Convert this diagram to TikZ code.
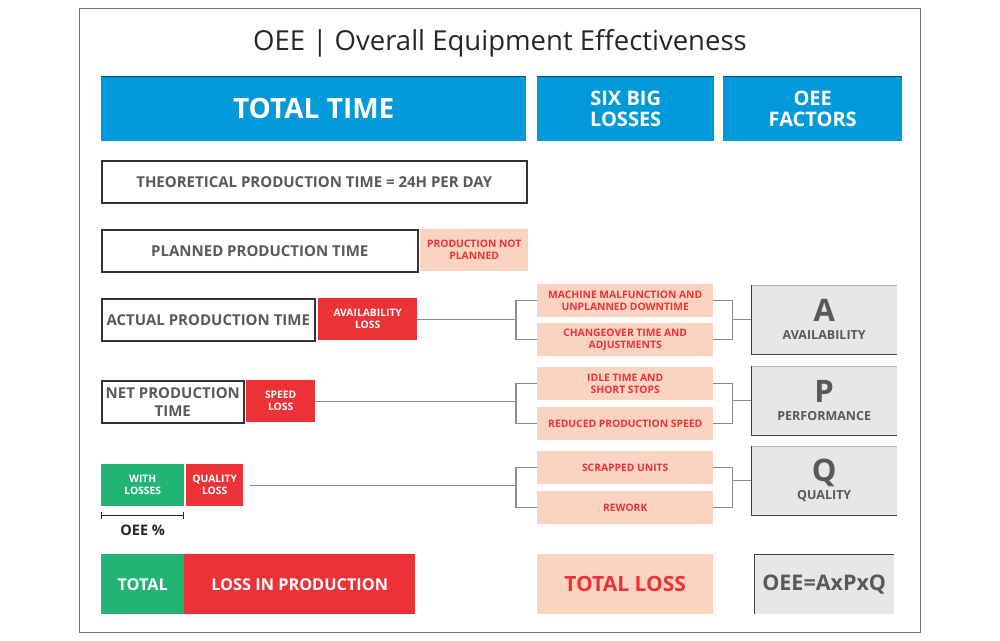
\documentclass[tikz,border=0pt]{standalone}
\usepackage{fontspec}
\setmainfont{Open Sans}
\definecolor{oeeblue}{RGB}{0,153,218}
\definecolor{lossred}{RGB}{236,50,55}
\definecolor{oeegreen}{RGB}{33,180,115}
\definecolor{softpeach}{RGB}{251,211,193}
\definecolor{factorgray}{RGB}{230,231,232}
\definecolor{textgray}{RGB}{88,89,91}
\usetikzlibrary{arrows.meta,positioning,calc}

\tikzset{
  box/.style 2 args={anchor=north west,minimum width=#1pt,minimum height=#2pt,inner sep=0pt,align=center},
  header/.style={fill=oeeblue,text=white,font=\bfseries\fontsize{20}{21}\selectfont},
  timebox/.style={draw=black!80,line width=1.6pt,text=textgray,font=\bfseries\fontsize{15}{18}\selectfont},
  redloss/.style={fill=lossred,text=white,font=\bfseries\fontsize{10.3}{12}\selectfont},
  goodbox/.style={fill=oeegreen,text=white,font=\bfseries\fontsize{10.3}{12}\selectfont},
  bigloss/.style={fill=softpeach,text=lossred,font=\bfseries\fontsize{10.3}{12}\selectfont},
  factor/.style={fill=factorgray,text=textgray,font=\bfseries\fontsize{12.5}{18}\selectfont},
  conn/.style={draw=black!45,line width=1.3pt},
}

\begin{document}
\begin{tikzpicture}[x=1pt,y=-1pt]
\useasboundingbox (0,0) rectangle (1000,640);
\draw[black!55,line width=0.8pt] (79,8) rectangle (920,632);
\node[font=\fontsize{27.5}{30}\selectfont,text=black!85] (title) at (500,43) {OEE | Overall Equipment Effectiveness};

\node[header,box={425}{65},font=\bfseries\fontsize{28}{30}\selectfont] (total) at (101,76) {TOTAL TIME};
\node[header,box={177}{65}] (six) at (537,76) {SIX BIG\\LOSSES};
\node[header,box={179}{65}] (fac) at (723,76) {OEE\\FACTORS};
\foreach \h in {total,six,fac}
  \draw[oeeblue!55!black,line width=0.8pt] (\h.north west) -- (\h.north east);

\node[timebox,box={425}{42}] (theo) at (101,160) {THEORETICAL PRODUCTION TIME = 24H PER DAY};
\node[timebox,box={316}{42}] (plan) at (101,229) {PLANNED PRODUCTION TIME};
\node[bigloss,box={108}{42}] (notplan) at (420,229) {PRODUCTION NOT\\PLANNED};
\node[timebox,box={213}{42}] (act) at (101,298) {ACTUAL PRODUCTION TIME};
\node[redloss,box={99}{42}] (avl) at (318,298) {AVAILABILITY\\LOSS};
\node[timebox,box={142}{42}] (net) at (101,380) {NET PRODUCTION\\TIME};
\node[redloss,box={69}{42}] (spl) at (246,380) {SPEED\\LOSS};
\node[goodbox,box={83}{42}] (good) at (101,464) {WITH\\LOSSES};
\node[redloss,box={57}{42}] (qul) at (186,464) {QUALITY\\LOSS};
\draw[black!85,line width=1pt,{Bar[width=7pt]}-{Bar[width=7pt]}] ([yshift=-9pt]good.south west) -- ([yshift=-9pt]good.south east)
  node[midway,below=6pt,font=\bfseries\fontsize{14.5}{16}\selectfont,text=black!85] (pct) {OEE \%};

\node[bigloss,box={176}{33}] (mm) at (537,284) {MACHINE MALFUNCTION AND\\UNPLANNED DOWNTIME};
\node[bigloss,box={176}{33}] (cg) at (537,323) {CHANGEOVER TIME AND\\ADJUSTMENTS};
\node[bigloss,box={176}{33}] (idle) at (537,367) {IDLE TIME AND\\SHORT STOPS};
\node[bigloss,box={176}{33}] (slow) at (537,407) {REDUCED PRODUCTION SPEED};
\node[bigloss,box={176}{33}] (scrap) at (537,451) {SCRAPPED UNITS};
\node[bigloss,box={176}{33}] (rew) at (537,491) {REWORK};

\node[factor,box={146}{69}] (fa) at (751,285) {{\fontsize{31}{31}\selectfont A}\\AVAILABILITY};
\node[factor,box={146}{69}] (fp) at (751,366) {{\fontsize{31}{31}\selectfont P}\\PERFORMANCE};
\node[factor,box={146}{69}] (fq) at (751,446) {{\fontsize{31}{31}\selectfont Q}\\QUALITY};
\foreach \f in {fa,fp,fq} {
  \draw[black!30,line width=1pt] (\f.north west) -- (\f.north east);
  \draw[black!75,line width=1pt] (\f.north west) -- (\f.south west) -- (\f.south east);
}

\draw[conn] (mm.west) -- ++(-21,0) coordinate (la) |- (cg.west);
\draw[conn] (avl.east) -- (avl.east -| la);
\draw[conn] (mm.east) -- ++(19,0) coordinate (ra) |- (cg.east);
\draw[conn] (fa.west) -- (fa.west -| ra);
\draw[conn] (idle.west) -- ++(-21,0) coordinate (lp) |- (slow.west);
\draw[conn] (spl.east) -- (spl.east -| lp);
\draw[conn] (idle.east) -- ++(19,0) coordinate (rp) |- (slow.east);
\draw[conn] (fp.west) -- (fp.west -| rp);
\draw[conn] (scrap.west) -- ++(-21,0) coordinate (lq) |- (rew.west);
\draw[conn,shorten <=7pt] (qul.east) -- (qul.east -| lq);
\draw[conn] (scrap.east) -- ++(19,0) coordinate (rq) |- (rew.east);
\draw[conn] (fq.west) -- (fq.west -| rq);

\node[goodbox,box={83}{60},font=\bfseries\fontsize{16.3}{18}\selectfont] (tot) at (101,554) {TOTAL};
\node[redloss,box={231}{60},font=\bfseries\fontsize{16.3}{18}\selectfont] (lip) at (184,554) {LOSS IN PRODUCTION};
\node[bigloss,box={176}{60},font=\bfseries\fontsize{21}{22}\selectfont] (tloss) at (537,554) {TOTAL LOSS};
\node[factor,box={140}{60},font=\bfseries\fontsize{21.5}{22}\selectfont] (form) at (754,554) {OEE=AxPxQ};
\draw[black!75,line width=1pt] (form.south west) -- (form.north west) -- (form.north east);
\end{tikzpicture}
\end{document}
